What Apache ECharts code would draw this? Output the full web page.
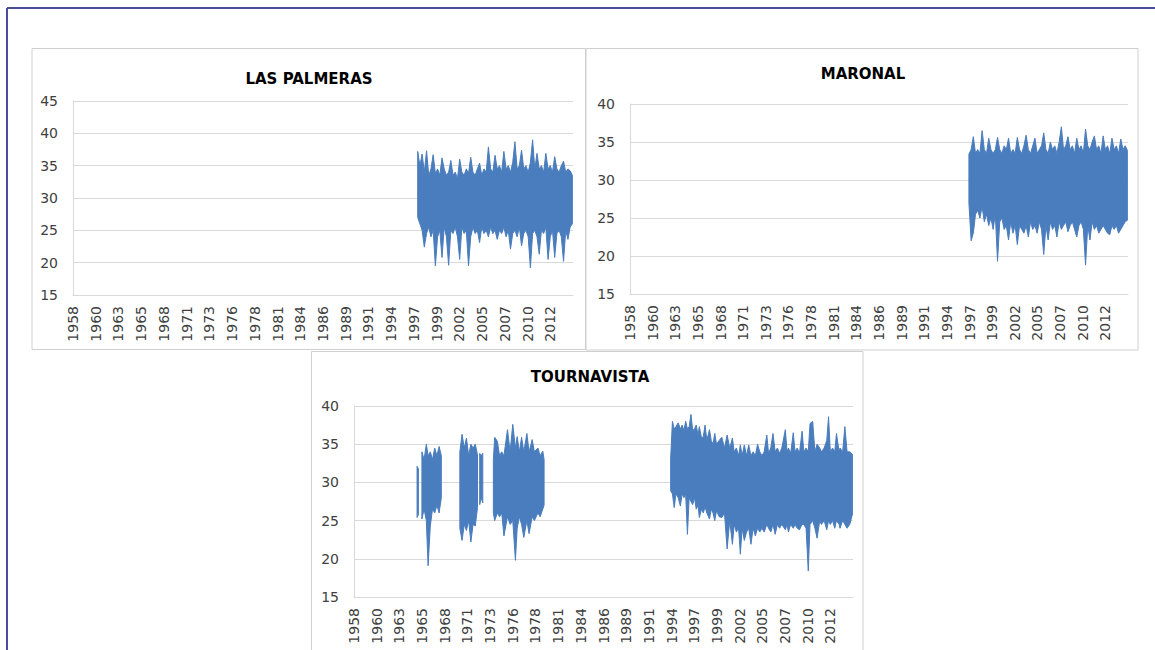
<!DOCTYPE html>
<html>
<head>
<meta charset="utf-8">
<script src="https://cdn.jsdelivr.net/npm/echarts@6.0.0/dist/echarts.min.js"></script>
<style>
  html, body { margin: 0; padding: 0; background: #ffffff; }
  #chart { width: 1155px; height: 650px; }
</style>
</head>
<body>
<div id="chart"></div>
<script>
// ---------------- DATA ----------------
// Excel-style category tick labels along the date axis (one label every ~2.57 years)
const tickLabels = ['1958','1960','1963','1965','1968','1971','1973','1976','1978','1981','1984',
  '1986','1989','1991','1994','1997','1999','2002','2005','2007','2010','2012'];
const axisStartYear = 1958;
const yearsPerTick = 54 / 21;

const titles = ['LAS PALMERAS', 'MARONAL', 'TOURNAVISTA'];

// LAS PALMERAS: quarterly envelope of daily max temperature (°C), from 1997.0
const lpStart = 1997.0;
const lpHigh = [37.2,35.0,36.8,34.0, 37.3,33.5,34.5,36.7, 33.8,34.5,33.5,36.2, 34.5,33.5,34.0,35.8,
  33.5,34.0,33.0,36.0, 34.0,33.5,34.5,33.8, 36.3,34.0,33.5,34.5, 35.4,33.5,34.5,34.0,
  37.9,34.5,34.0,36.6, 34.5,35.0,34.0,37.2, 34.5,35.0,34.0,35.5, 38.7,34.5,35.0,37.4,
  34.5,35.0,34.0,35.5, 39.0,34.5,36.9,34.5, 35.0,34.0,36.9,34.5, 35.0,34.0,36.4,34.5,
  34.0,35.0,35.7,34.0, 34.5,34.2,33.5];
const lpLow = [27.0,26.0,25.0,22.4, 24.5,25.5,24.0,25.0, 19.5,24.0,25.0,20.8, 25.5,24.0,19.6,25.0,
  24.5,25.5,24.0,20.5, 25.5,24.5,25.0,19.5, 24.0,25.5,24.5,25.0, 23.1,25.5,24.5,25.0,
  24.0,25.5,24.5,25.0, 23.6,25.0,24.5,25.5, 24.0,25.0,22.1,24.5, 25.0,24.0,25.5,22.6,
  24.5,25.0,24.0,19.2, 24.5,25.0,24.0,21.3, 25.0,24.5,25.5,20.5, 24.0,25.0,20.8,24.5,
  25.0,24.0,20.2,25.0, 23.6,25.5,26.0];

// MARONAL: quarterly envelope, from 1996.5
const maStart = 1996.5;
const maHigh = [33.4,34.0, 35.7,33.5,34.0,33.5, 36.5,34.0,33.5,35.5, 34.0,33.5,34.0,35.6,
  34.0,33.5,34.5,34.0, 35.5,33.5,34.0,33.5, 35.6,34.0,33.5,34.5, 35.9,34.0,33.5,34.5,
  35.5,33.5,34.0,34.5, 36.2,34.0,33.5,35.0, 34.0,34.5,33.5,35.0, 37.0,34.0,34.5,35.7,
  34.0,34.5,33.5,35.5, 34.0,34.5,33.5,36.7, 34.5,34.0,35.0,35.8, 34.0,34.5,33.5,35.8,
  34.0,34.5,33.5,35.5, 34.0,34.5,33.5,35.4, 34.0,34.5,33.9];
const maLow = [27.0,22.0, 23.0,25.5,26.0,25.0, 26.5,24.5,25.5,24.0, 25.0,23.5,25.5,19.3,
  24.5,25.0,23.5,24.0, 22.1,24.5,23.0,24.0, 21.5,24.0,23.5,23.0, 24.0,22.5,24.5,23.5,
  24.0,23.0,24.5,23.5, 20.2,24.0,22.1,24.5, 23.5,24.0,22.5,24.5, 23.5,24.0,24.5,23.2,
  24.0,24.5,23.5,22.5, 24.0,24.5,23.5,18.8, 24.0,22.1,24.5,23.5, 24.0,23.0,23.5,24.0,
  23.5,23.0,22.8,24.0, 23.5,24.0,23.0,23.5, 24.0,24.5,24.7];

// TOURNAVISTA: envelope with gaps (null = no record)
const toYears = [
  1965.15,1965.30,1965.50,
  1965.70,1965.95,1966.20,1966.40,1966.65,1966.90,1967.15,1967.40,1967.65,1967.90,1968.50,
  1970.00,1970.25,1970.50,1970.75,1971.00,1971.25,1971.50,1971.75,1972.00,1972.12,
  1972.25,1972.42,1972.60,1973.00,
  1973.80,1973.95,1974.25,1974.50,1974.75,1975.00,1975.40,1975.70,1976.00,1976.30,1976.50,
  1976.75,1977.00,1977.25,1977.60,1977.85,1978.20,1978.45,1978.85,1979.10,1979.40,1979.55,1980.00,
  1993.90,1994.10,1994.30,1994.50,1994.75,1995.00,1995.20,1995.40,1995.60,1995.80,1996.00,
  1996.20,1996.40,1996.60,1996.80,1997.00,1997.15,1997.40,1997.60,1997.80,1998.00,1998.30,
  1998.50,1998.70,1998.90,1999.10,1999.40,1999.70,2000.00,2000.30,2000.60,2000.90,2001.10,
  2001.35,2001.60,2001.80,2002.00,2002.25,2002.50,2002.75,2003.00,2003.25,2003.50,2003.75,
  2004.00,2004.25,2004.50,2004.80,2005.00,2005.25,2005.50,2005.75,2006.00,2006.25,2006.50,
  2006.90,2007.10,2007.25,2007.50,2007.80,2008.00,2008.25,2008.50,2008.80,2009.00,2009.25,
  2009.50,2009.70,2010.00,2010.25,2010.50,2010.80,2011.00,2011.30,2011.60,2011.80,2012.00,
  2012.25,2012.50,2012.70,2013.00,2013.10,2013.40,2013.65,2013.90,2014.20,2014.55];
const toHigh = [
  32.1,31.8,null,
  34.0,33.0,35.0,33.5,34.0,33.0,34.5,33.5,34.7,33.5,null,
  34.0,36.3,34.5,35.8,33.5,35.0,34.5,35.0,33.6,null,
  33.8,33.5,33.8,null,
  33.0,35.9,35.4,33.5,34.0,33.5,36.9,34.0,37.6,34.5,36.0,
  34.0,35.9,34.0,36.4,34.0,35.6,34.0,34.5,33.5,34.1,33.0,null,
  33.2,38.0,37.0,37.3,37.8,37.0,37.5,36.8,38.0,37.0,37.3,
  38.9,36.8,37.0,37.5,36.2,37.3,35.8,36.0,37.5,35.5,36.9,
  35.5,35.0,36.4,35.0,35.5,35.9,34.5,36.2,34.5,35.8,34.0,
  34.5,33.5,34.9,33.5,34.9,33.5,34.9,33.5,34.0,33.5,35.0,
  34.0,33.5,34.0,36.2,33.8,34.5,36.4,34.0,34.5,33.8,34.5,
  36.9,34.0,34.5,33.8,36.5,34.0,34.5,33.8,36.7,34.0,34.5,
  34.0,37.7,38.0,34.0,35.0,34.5,34.0,34.5,35.5,38.6,34.0,
  34.5,34.0,36.4,34.0,34.5,34.0,37.3,34.0,34.0,33.6];
const toLow = [
  25.4,25.8,null,
  25.2,26.5,25.0,19.1,24.3,26.5,26.0,27.0,26.0,28.0,null,
  24.0,22.4,24.5,23.7,25.0,22.2,24.5,24.3,26.7,null,
  27.1,28.0,27.3,null,
  26.0,25.0,26.0,25.5,26.0,23.0,25.5,24.5,25.0,19.8,24.0,
  25.5,24.5,22.8,25.0,23.3,25.5,25.0,26.0,25.5,26.5,27.0,null,
  28.9,28.5,26.7,28.5,28.0,26.9,28.5,28.0,28.5,23.2,28.0,
  27.5,27.1,28.0,26.5,27.0,25.4,26.5,26.0,26.8,26.0,25.2,
  26.5,26.0,25.0,26.3,25.5,25.4,26.0,21.3,25.0,21.9,24.5,
  23.5,24.0,20.6,24.0,22.4,23.5,24.0,21.9,24.0,23.0,24.0,
  23.5,24.0,23.5,24.5,24.0,23.5,24.5,23.2,24.5,24.0,24.5,
  23.8,24.5,23.5,24.5,24.0,24.5,24.0,23.8,24.5,24.5,24.0,
  18.4,24.5,25.0,24.0,22.7,25.0,24.5,25.0,23.8,25.0,24.5,
  25.0,24.0,25.0,24.5,24.0,25.0,24.5,24.0,24.5,26.0];

const yRanges = [[15, 45], [15, 40], [15, 40]];

// ---------------- BUILD ----------------
const BLUE = '#4a7dbd';
const GRID_GRAY = '#d9d9d9';
const LABEL_COLOR = '#404040';

function toStep(year) { return (year - axisStartYear) / yearsPerTick; }

function regularYears(start, n) {
  const out = [];
  for (let i = 0; i < n; i++) out.push(start + i * 0.25);
  return out;
}

// split into contiguous segments of [x, hi, lo]
function segmentsOf(years, hi, lo) {
  const segs = [];
  let cur = [];
  for (let i = 0; i < years.length; i++) {
    if (hi[i] == null || lo[i] == null) {
      if (cur.length) segs.push(cur);
      cur = [];
      continue;
    }
    cur.push([toStep(years[i]), hi[i], lo[i]]);
  }
  if (cur.length) segs.push(cur);
  return segs;
}

const stationSegments = [
  segmentsOf(regularYears(lpStart, lpHigh.length), lpHigh, lpLow),
  segmentsOf(regularYears(maStart, maHigh.length), maHigh, maLow),
  segmentsOf(toYears, toHigh, toLow)
];

function makeRenderer(segs) {
  return function (params, api) {
    const seg = segs[api.value(4)];
    const pts = [];
    for (let i = 0; i < seg.length; i++) pts.push(api.coord([seg[i][0], seg[i][1]]));
    for (let i = seg.length - 1; i >= 0; i--) pts.push(api.coord([seg[i][0], seg[i][2]]));
    return {
      type: 'polygon',
      shape: { points: pts },
      style: { fill: BLUE, stroke: BLUE, lineWidth: 1, lineJoin: 'miter' }
    };
  };
}

const grids = [
  { left: 73, top: 101, width: 500, height: 194 },
  { left: 630, top: 104, width: 498, height: 190 },
  { left: 354, top: 406, width: 499, height: 191 }
];

const titlePos = [[309, 79], [863, 74], [590, 377]];

const xAxes = grids.map((g, i) => ({
  type: 'value', gridIndex: i, min: 0, max: 22, interval: 1,
  axisLine: { show: true, lineStyle: { color: GRID_GRAY, width: 1 } },
  axisTick: { show: false },
  splitLine: { show: false },
  axisLabel: {
    rotate: 90, margin: 11, fontSize: 14, fontFamily: 'DejaVu Sans', color: LABEL_COLOR,
    formatter: v => (tickLabels[Math.round(v)] !== undefined ? tickLabels[Math.round(v)] : '')
  }
}));

const yAxes = grids.map((g, i) => ({
  type: 'value', gridIndex: i, min: yRanges[i][0], max: yRanges[i][1], interval: 5,
  axisLine: { show: true, lineStyle: { color: GRID_GRAY, width: 1 } },
  axisTick: { show: false },
  splitLine: { show: true, lineStyle: { color: GRID_GRAY, width: 1 } },
  axisLabel: { margin: 15, fontSize: 14, fontFamily: 'DejaVu Sans', color: LABEL_COLOR }
}));

const series = stationSegments.map((segs, i) => ({
  type: 'custom', xAxisIndex: i, yAxisIndex: i,
  renderItem: makeRenderer(segs),
  dimensions: ['xmin', 'xmax', 'ymin', 'ymax', 'seg'],
  encode: { x: [0, 1], y: [2, 3] },
  data: segs.map((s, k) => [
    s[0][0], s[s.length - 1][0],
    Math.min.apply(null, s.map(p => p[2])), Math.max.apply(null, s.map(p => p[1])), k
  ]),
  clip: true, silent: true, animation: false
}));

const panelStroke = { stroke: '#cfcfcf', fill: 'transparent', lineWidth: 1 };
const graphic = [
  // outer frame
  { type: 'line', shape: { x1: 7, y1: 8, x2: 1155, y2: 8 }, style: { stroke: '#4c4c9c', lineWidth: 2 } },
  { type: 'line', shape: { x1: 7, y1: 8, x2: 7, y2: 650 }, style: { stroke: '#4c4c9c', lineWidth: 2 } },
  // chart panels
  { type: 'rect', shape: { x: 32, y: 48.5, width: 553.5, height: 301 }, style: panelStroke, z: -1 },
  { type: 'rect', shape: { x: 586, y: 48.5, width: 552, height: 301.5 }, style: panelStroke, z: -1 },
  { type: 'rect', shape: { x: 311.5, y: 351.5, width: 551.5, height: 320 }, style: panelStroke, z: -1 }
].concat(titles.map((t, i) => ({
  type: 'text', x: titlePos[i][0], y: titlePos[i][1],
  style: { text: t, fill: '#000000', font: 'bold 15px "DejaVu Sans"', textAlign: 'center', textVerticalAlign: 'middle' }
})));

const chart = echarts.init(document.getElementById('chart'), null, { renderer: 'svg' });
chart.setOption({
  backgroundColor: '#ffffff',
  animation: false,
  grid: grids,
  xAxis: xAxes,
  yAxis: yAxes,
  series: series,
  graphic: graphic
});
</script>
</body>
</html>
